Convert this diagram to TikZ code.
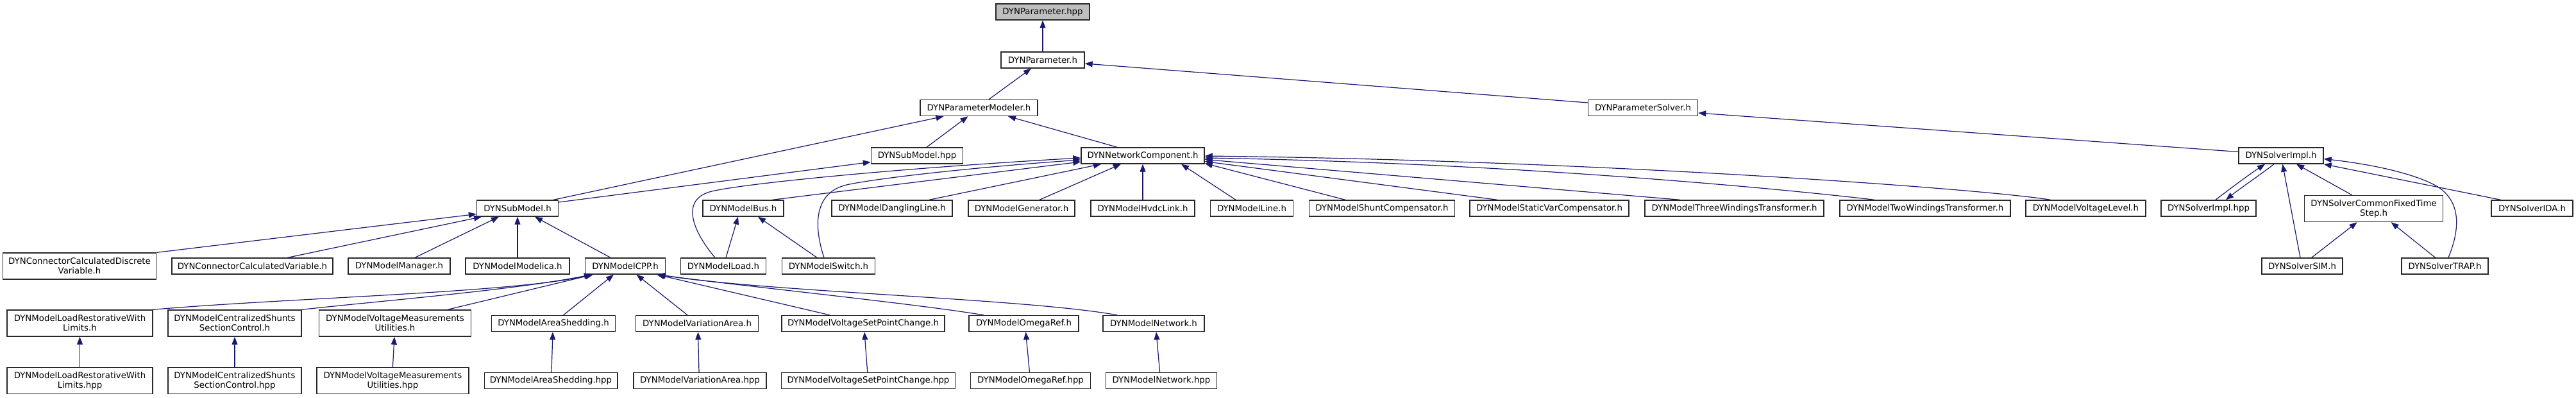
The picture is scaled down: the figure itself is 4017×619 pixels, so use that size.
\documentclass[tikz,border=0pt]{standalone}
\usepackage{fontspec}
\setmainfont{DejaVu Sans}
\usetikzlibrary{arrows.meta}
\definecolor{edgeblue}{RGB}{25,25,112}
\definecolor{boxline}{RGB}{40,40,40}
\definecolor{rootfill}{RGB}{191,191,191}
\begin{document}
\begin{tikzpicture}[x=1pt,y=-1pt,
  box/.style={draw=boxline, line width=1.4pt, fill=white, inner sep=0pt, minimum height=25pt, align=center, font=\fontsize{13.3}{15}\selectfont},
  twoline/.style={minimum height=41pt},
  arr/.style={draw=edgeblue, line width=1.2pt, -{Triangle[length=12pt,width=9pt]}},
]
\useasboundingbox (0,0) rectangle (4017,619);
% row 0-2
\node[box, fill=rootfill, minimum width=146pt] (phpp) at (1626,18.5) {DYNParameter.hpp};
\node[box, minimum width=130pt] (ph) at (1626,93.5) {DYNParameter.h};
\node[box, minimum width=183pt] (pmod) at (1526.5,168) {DYNParameterModeler.h};
\node[box, minimum width=171pt] (psolv) at (2562,168) {DYNParameterSolver.h};
% row 3
\node[box, minimum width=143pt] (smhpp) at (1430,242.5) {DYNSubModel.hpp};
\node[box, minimum width=192pt] (nc) at (1782,242.5) {DYNNetworkComponent.h};
\node[box, minimum width=132pt] (simpl) at (3557,242.5) {DYNSolverImpl.h};
% row 4
\node[box, minimum width=127pt] (smh) at (807,324.5) {DYNSubModel.h};
\node[box, minimum width=126pt] (bus) at (1159,324.5) {DYNModelBus.h};
\node[box, minimum width=188pt] (dang) at (1391,324.5) {DYNModelDanglingLine.h};
\node[box, minimum width=166pt] (gen) at (1593,324.5) {DYNModelGenerator.h};
\node[box, minimum width=162pt] (hvdc) at (1782,324.5) {DYNModelHvdcLink.h};
\node[box, minimum width=129pt] (mline) at (1952,324.5) {DYNModelLine.h};
\node[box, minimum width=227pt] (shunt) at (2155,324.5) {DYNModelShuntCompensator.h};
\node[box, minimum width=248pt] (svc) at (2416,324.5) {DYNModelStaticVarCompensator.h};
\node[box, minimum width=279pt] (three) at (2704.5,324.5) {DYNModelThreeWindingsTransformer.h};
\node[box, minimum width=266pt] (twow) at (3002,324.5) {DYNModelTwoWindingsTransformer.h};
\node[box, minimum width=187pt] (vl) at (3252.5,324.5) {DYNModelVoltageLevel.h};
\node[box, minimum width=148pt] (simplhpp) at (3444,324.5) {DYNSolverImpl.hpp};
\node[box, twoline, minimum width=216pt] (fixed) at (3701.6,325) {DYNSolverCommonFixedTime\\Step.h};
\node[box, minimum width=127pt] (ida) at (3948.5,324.5) {DYNSolverIDA.h};
% row 5
\node[box, twoline, minimum width=239.5pt] (conndisc) at (124,414.5) {DYNConnectorCalculatedDiscrete\\Variable.h};
\node[box, minimum width=251pt] (connvar) at (393.5,414.5) {DYNConnectorCalculatedVariable.h};
\node[box, minimum width=159pt] (manager) at (622.5,414.5) {DYNModelManager.h};
\node[box, minimum width=162pt] (modelica) at (807,414.5) {DYNModelModelica.h};
\node[box, minimum width=125pt] (cpp) at (975,414.5) {DYNModelCPP.h};
\node[box, minimum width=133pt] (load) at (1128,414.5) {DYNModelLoad.h};
\node[box, minimum width=145pt] (sw) at (1292,414.5) {DYNModelSwitch.h};
\node[box, minimum width=126pt] (sim) at (3590,414.5) {DYNSolverSIM.h};
\node[box, minimum width=135pt] (trap) at (3812.5,414.5) {DYNSolverTRAP.h};
% row 6
\node[box, twoline, minimum width=227pt] (lrwl) at (124.5,503.5) {DYNModelLoadRestorativeWith\\Limits.h};
\node[box, twoline, minimum width=208pt] (css) at (366,503.5) {DYNModelCentralizedShunts\\SectionControl.h};
\node[box, twoline, minimum width=237pt] (vmu) at (616,503.5) {DYNModelVoltageMeasurements\\Utilities.h};
\node[box, minimum width=192.5pt] (ash) at (863,504) {DYNModelAreaShedding.h};
\node[box, minimum width=191pt] (varea) at (1087,504) {DYNModelVariationArea.h};
\node[box, minimum width=254pt] (vspc) at (1346,504) {DYNModelVoltageSetPointChange.h};
\node[box, minimum width=171pt] (omega) at (1596.5,504) {DYNModelOmegaRef.h};
\node[box, minimum width=158pt] (net) at (1799,504) {DYNModelNetwork.h};
% row 7
\node[box, twoline, minimum width=227pt] (lrwlhpp) at (124.5,593) {DYNModelLoadRestorativeWith\\Limits.hpp};
\node[box, twoline, minimum width=208pt] (csshpp) at (366,593) {DYNModelCentralizedShunts\\SectionControl.hpp};
\node[box, twoline, minimum width=237pt] (vmuhpp) at (612.4,593) {DYNModelVoltageMeasurements\\Utilities.hpp};
\node[box, minimum width=207.6pt] (ashhpp) at (859,593) {DYNModelAreaShedding.hpp};
\node[box, minimum width=207pt] (vareahpp) at (1091.5,593) {DYNModelVariationArea.hpp};
\node[box, minimum width=271pt] (vspchpp) at (1354,593) {DYNModelVoltageSetPointChange.hpp};
\node[box, minimum width=186.6pt] (omegahpp) at (1607,593) {DYNModelOmegaRef.hpp};
\node[box, minimum width=173pt] (nethpp) at (1811,593) {DYNModelNetwork.hpp};

% edges: top part
\draw[arr] (ph.north) -- (phpp.south);
\draw[arr] ([xshift=15.5pt]pmod.north) -- ([xshift=-18pt]ph.south);
\draw[arr] ([yshift=8pt]psolv.west) -- ([yshift=-5.5pt]ph.east);
\draw[arr] ([yshift=6pt]simpl.west) -- ([yshift=-8pt]psolv.east);
\draw[arr] ([xshift=56pt]smh.north) -- ([xshift=-55pt]pmod.south);
\draw[arr] ([xshift=15pt]smhpp.north) -- ([xshift=-17pt]pmod.south);
\draw[arr] ([xshift=-40pt]nc.north) -- ([xshift=45.5pt]pmod.south);
\draw[arr] ([yshift=9.5pt]smh.east) -- ([yshift=-10pt]smhpp.west);
% SubModel.h children
\draw[arr] (conndisc.north east) -- ([yshift=-9pt]smh.west);
\draw[arr] ([xshift=55pt]connvar.north) -- ([xshift=-56pt]smh.south);
\draw[arr] ([xshift=24.5pt]manager.north) -- ([xshift=-29pt]smh.south);
\draw[arr] (modelica.north) -- (smh.south);
\draw[arr] ([xshift=-23pt]cpp.north) -- ([xshift=27pt]smh.south);
% NetworkComponent children
\draw[arr] ([xshift=45.5pt]bus.north) -- ([yshift=-9.5pt]nc.west);
\draw[arr] ([xshift=-13pt]load.north) .. controls (1080,360) and (1060,310) .. (1110,298) .. controls (1160,286) and (1400,262) .. ([yshift=-3.5pt]nc.west);
\draw[arr] ([xshift=-7pt]sw.north) .. controls (1268,350) and (1270,300) .. (1320,288) .. controls (1360,279) and (1500,262) .. ([yshift=-6.5pt]nc.west);
\draw[arr] ([xshift=4pt]load.north) -- ([xshift=-8pt]bus.south);
\draw[arr] ([xshift=-18pt]sw.north) -- ([xshift=23pt]bus.south);
\draw[arr] ([xshift=58pt]dang.north) -- ([xshift=-65pt]nc.south);
\draw[arr] ([xshift=28pt]gen.north) -- ([xshift=-34pt]nc.south);
\draw[arr] (hvdc.north) -- (nc.south);
\draw[arr] ([xshift=-25pt]mline.north) -- ([xshift=60pt]nc.south);
\draw[arr] ([xshift=-57pt]shunt.north) -- ([yshift=-12pt]nc.east);
\draw[arr] ([xshift=-81pt]svc.north) -- ([yshift=-9pt]nc.east);
\draw[arr] ([xshift=-84.5pt]three.north) -- ([yshift=-6pt]nc.east);
\draw[arr] ([xshift=-79pt]twow.north) .. controls (2830,300) and (2400,255) .. ([yshift=-3.5pt]nc.east);
\draw[arr] ([xshift=-55pt]vl.north) .. controls (3100,295) and (2500,250) .. ([yshift=-0.5pt]nc.east);
% Solver part
\draw[arr] ([xshift=11pt]simplhpp.north) .. controls (3480,292) and (3510,270) .. ([xshift=-25pt]simpl.south);
\draw[arr] ([xshift=-11pt]simpl.south) .. controls (3525,272) and (3495,292) .. ([xshift=27pt]simplhpp.north);
\draw[arr] ([xshift=-3pt]sim.north) -- ([xshift=2.4pt]simpl.south);
\draw[arr] ([xshift=-34pt]fixed.north) -- ([xshift=24pt]simpl.south);
\draw[arr] ([xshift=-49pt]ida.north) -- (simpl.south east);
\draw[arr] ([xshift=5.5pt]trap.north) .. controls (3835,360) and (3840,315) .. (3800,290) .. controls (3760,268) and (3690,255) .. ([yshift=-5pt]simpl.east);
\draw[arr] ([xshift=14.6pt]sim.north) -- ([xshift=-26pt]fixed.south);
\draw[arr] ([xshift=-15pt]trap.north) -- ([xshift=27pt]fixed.south);
% ModelCPP children
\draw[arr] (lrwl.north east) .. controls (450,464) and (800,456) .. ([xshift=-52pt]cpp.south);
\draw[arr] (css.north east) .. controls (600,468) and (800,452) .. ([xshift=-52pt]cpp.south);
\draw[arr] ([xshift=82pt]vmu.north) -- ([xshift=-50pt]cpp.south);
\draw[arr] ([xshift=15.6pt]ash.north) -- ([xshift=-18pt]cpp.south);
\draw[arr] ([xshift=-15pt]varea.north) -- ([xshift=17.5pt]cpp.south);
\draw[arr] ([xshift=-52pt]vspc.north) -- ([xshift=49pt]cpp.south);
\draw[arr] ([xshift=-62.5pt]omega.north) .. controls (1420,472) and (1150,445) .. ([xshift=50pt]cpp.south);
\draw[arr] ([xshift=-57pt]net.north) .. controls (1600,465) and (1200,455) .. ([xshift=51pt]cpp.south);
% hpp -> h
\draw[arr] (lrwlhpp.north) -- (lrwl.south);
\draw[arr] (csshpp.north) -- (css.south);
\draw[arr] (vmuhpp.north) -- ([xshift=-1pt]vmu.south);
\draw[arr] ([xshift=1pt]ashhpp.north) -- ([xshift=-1pt]ash.south);
\draw[arr] ([xshift=-1.5pt]vareahpp.north) -- ([xshift=1.5pt]varea.south);
\draw[arr] ([xshift=-1.3pt]vspchpp.north) -- ([xshift=2pt]vspc.south);
\draw[arr] ([xshift=-1.5pt]omegahpp.north) -- ([xshift=3pt]omega.south);
\draw[arr] ([xshift=-2.4pt]nethpp.north) -- ([xshift=4pt]net.south);
\end{tikzpicture}
\end{document}
